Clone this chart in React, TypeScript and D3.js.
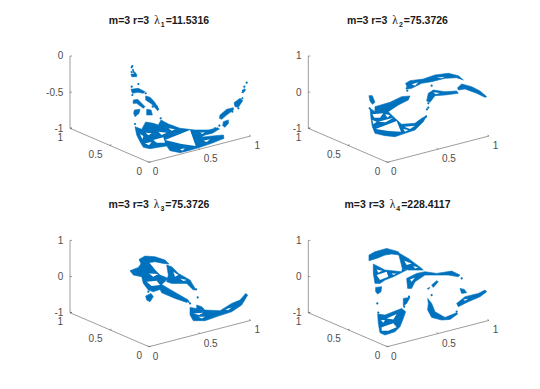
import React from "react";
import * as d3 from "d3";

type P = [number, number];

// view-plane readings of each point cloud (horizontal, vertical in plot units).
// blobs: outlines of dense point regions; gaps: holes inside them; dots: isolated points.
const blobs1: P[][] = [
  [[195,107],[215,99],[227,121],[250,117],[265,112],[273,127],[295,115],[330,102],[375,97],[415,97],[443,104],[448,100],[427,87],[405,82],[393,75],[427,79],[460,82],[462,72],[425,57],[390,45],[355,35],[330,29],[300,35],[290,49],[265,45],[240,41],[220,45],[210,62],[200,82]],
  [[183,219],[205,222],[225,212],[220,207],[203,210],[187,207]],
  [[190,187],[203,189],[225,167],[220,162],[200,177],[189,177]],
  [[227,199],[240,195],[253,182],[267,159],[263,155],[245,175],[227,187]],
  [[193,157],[210,159],[207,147],[195,137],[191,147]],
  [[230,159],[243,157],[247,142],[230,142]],
  [[183,265],[200,265],[200,257],[185,257]],
  [[515,209],[523,221],[527,217],[520,209]],
  [[492,179],[510,192],[518,185],[505,165],[495,167]],
  [[450,142],[470,159],[490,164],[490,157],[470,142],[455,129],[448,132]],
  [[460,122],[475,127],[475,117],[465,105],[458,110]],
];
const gaps1: P[][] = [
  [[285,67],[360,97],[377,49],[335,55]],
  [[295,102],[315,99],[305,95]],
  [[227,89],[245,87],[235,81]],
  [[210,85],[220,79],[217,69]],
  [[250,67],[280,75],[285,59],[260,59]],
  [[225,57],[245,61],[237,51]],
  [[265,92],[290,89],[275,82]],
  [[330,39],[345,42],[337,35]],
  [[390,89],[405,90],[397,85]],
  [[400,65],[420,69],[410,61]],
];
const dots1: P[] = [[185,285],[189,277],[185,271],[195,267],[187,289],[191,271],[185,227],[205,235],[227,207],[187,202],[195,115],[272,132],[248,167],[530,239],[523,227],[519,215],[448,110],[435,102],[487,152],[517,192],[505,162],[260,167]];

const blobs2: P[][] = [
  [[292,237],[305,245],[345,250],[380,262],[420,267],[450,260],[465,247],[445,254],[410,252],[370,242],[340,237],[310,222],[298,220]],
  [[448,224],[460,235],[490,227],[515,214],[535,197],[530,195],[505,207],[470,220],[450,217]],
  [[360,207],[375,217],[410,212],[445,214],[450,207],[410,202],[380,200],[365,180],[355,184]],
  [[182,200],[192,200],[200,180],[192,174],[185,184]],
  [[200,167],[245,180],[280,197],[305,199],[300,187],[270,172],[240,152],[215,144],[200,147]],
  [[185,162],[200,152],[240,152],[255,137],[280,114],[320,117],[340,132],[355,140],[345,122],[320,97],[290,87],[260,77],[230,80],[200,87],[192,107],[188,132]],
];
const gaps2: P[][] = [
  [[310,234],[330,240],[320,230]],
  [[385,254],[410,257],[400,252]],
  [[375,210],[395,208],[382,204]],
  [[192,144],[225,147],[215,134],[198,134]],
  [[230,144],[245,142],[238,134]],
  [[192,127],[205,122],[195,114]],
  [[202,100],[265,124],[278,92],[240,94]],
  [[210,122],[255,134],[232,120]],
  [[288,107],[320,110],[305,100]],
  [[285,100],[300,97],[290,92]],
];
const dots2: P[] = [[297,215],[370,230],[360,177],[356,159],[360,164],[353,137],[295,222],[184,162]];

const blobs3: P[][] = [
  [[207,262],[225,272],[255,270],[285,260],[297,248],[280,250],[255,255],[235,252],[215,245]],
  [[180,228],[205,238],[215,252],[235,255],[255,230],[270,215],[295,205],[275,187],[300,172],[355,140],[350,133],[315,145],[275,162],[270,172],[250,165],[235,170],[220,190],[215,210],[190,215]],
  [[290,245],[305,240],[325,220],[360,200],[377,172],[370,170],[350,190],[305,190],[290,195],[295,215]],
  [[227,152],[243,160],[250,150],[240,135],[230,140]],
  [[380,125],[395,120],[403,112],[380,112]],
  [[360,118],[405,110],[450,108],[485,130],[510,140],[527,160],[533,155],[515,125],[485,105],[445,92],[405,78],[370,78],[360,95]],
];
const gaps3: P[][] = [
  [[237,220],[265,218],[250,210]],
  [[230,195],[260,198],[270,185],[245,182]],
  [[310,225],[325,215],[315,210]],
  [[330,205],[350,200],[340,197]],
  [[370,100],[400,102],[387,95]],
  [[385,90],[405,90],[395,85]],
  [[465,112],[485,118],[475,110]],
];
const dots3: P[] = [[235,165],[383,148],[378,172],[360,130],[355,135]];

const blobs4: P[][] = [
  [[182,275],[200,285],[235,295],[270,285],[275,275],[250,278],[230,275],[205,265],[182,258]],
  [[270,282],[300,265],[340,235],[345,230],[300,230],[282,235]],
  [[195,248],[230,230],[280,225],[282,235],[295,230],[255,210],[230,200],[215,190],[200,190],[195,220]],
  [[202,178],[220,180],[218,165],[208,158],[202,165]],
  [[295,205],[325,220],[350,225],[385,220],[430,227],[455,215],[450,210],[420,215],[380,215],[350,215],[320,195],[310,175],[298,175]],
  [[370,185],[385,198],[390,195],[375,178]],
  [[357,175],[365,178],[360,172]],
  [[285,145],[305,148],[295,130],[285,122]],
  [[208,98],[230,95],[280,115],[292,105],[285,85],[275,60],[260,45],[230,35],[215,42],[210,70]],
  [[358,145],[370,130],[380,105],[410,88],[445,102],[448,98],[425,82],[400,80],[370,88],[358,110],[360,130]],
  [[455,175],[468,172],[475,162],[460,160]],
  [[445,130],[470,150],[510,160],[530,170],[535,165],[515,150],[480,135],[450,120]],
];
const gaps4: P[][] = [
  [[288,258],[310,250],[295,245]],
  [[315,242],[330,238],[320,235]],
  [[205,232],[222,228],[210,222]],
  [[205,215],[235,225],[240,210],[215,200]],
  [[250,220],[265,220],[255,215]],
  [[305,202],[320,208],[310,195]],
  [[235,85],[265,98],[255,82]],
  [[218,80],[230,80],[225,72]],
  [[220,58],[255,70],[265,58],[240,48],[220,48]],
  [[465,142],[480,144],[470,138]],
];
const dots4: P[] = [[207,130],[210,102],[370,155],[460,205],[445,105],[302,150],[205,195],[288,120]];

const lambdaIndex = ["1", "2", "3", "4"];
const lambdaValues = ["11.5316", "75.3726", "75.3726", "228.4117"];
const xyTicks = [0, 0.5, 1];
const zTicks1 = [-1, -0.5, 0];
const zTicksOther = [-1, 0, 1];

const BLUE = "#0072BD";
const AXIS = "#5a5a5a";
const TEXT = "#4d4d4d";

const panels = [
  { b: blobs1, g: gaps1, d: dots1, z: zTicks1, left: 70, bottom: 162.3, cx: 159, ty: 23.5 },
  { b: blobs2, g: gaps2, d: dots2, z: zTicksOther, left: 308.3, bottom: 162.3, cx: 397.5, ty: 23.5 },
  { b: blobs3, g: gaps3, d: dots3, z: zTicksOther, left: 70, bottom: 346.7, cx: 159, ty: 208 },
  { b: blobs4, g: gaps4, d: dots4, z: zTicksOther, left: 308.3, bottom: 346.7, cx: 397.5, ty: 208 },
];

const hScale = d3.scaleLinear().domain([0, 542]).range([0, 180.7]);
const vScale = d3.scaleLinear().domain([0, 319]).range([0, -106.3]);
const outline = d3.line<P>().x((p) => hScale(p[0])).y((p) => vScale(p[1])).curve(d3.curveLinearClosed);

// floor projection: x runs from the front corner to the right, y to the left
const xProj = (x: number): P => [79 + x * 101.7, 0 - x * 26.3];
const yProj = (y: number): P => [79 - y * 79, 0 - y * 34];

function Panel({ i }: { i: number }) {
  const p = panels[i];
  const zScale = d3.scaleLinear().domain([p.z[0], p.z[2]]).range([-34, -106.3]);
  const corner = yProj(1);
  const right = xProj(1);
  const front = xProj(0);
  return (
    <g>
      <text x={p.cx} y={p.ty} textAnchor="middle" fontFamily="Liberation Sans, Arial, sans-serif" fontWeight="bold" fontSize={10.5} fill="#1a1a1a">
        {"m=3 r=3"}
        <tspan dx={5} fontWeight="normal" fontFamily="Liberation Serif, serif" fontSize={11.5}>λ</tspan>
        <tspan dx={1} dy={3} fontSize={7}>{lambdaIndex[i]}</tspan>
        <tspan dx={1} dy={-3}>{"=" + lambdaValues[i]}</tspan>
      </text>
      <g transform={`translate(${p.left},${p.bottom})`}>
        <g stroke={AXIS} strokeWidth={0.6} fill="none">
          <line x1={0} y1={zScale(p.z[0])} x2={0} y2={zScale(p.z[2])} />
          <line x1={corner[0]} y1={corner[1]} x2={front[0]} y2={front[1]} />
          <line x1={front[0]} y1={front[1]} x2={right[0]} y2={right[1]} />
          {p.z.map((t) => <line key={t} x1={0} x2={2} y1={zScale(t)} y2={zScale(t)} />)}
          {xyTicks.map((t) => { const q = xProj(t); return <line key={"x" + t} x1={q[0]} y1={q[1]} x2={q[0] - 1.5} y2={q[1] - 1} />; })}
          {xyTicks.map((t) => { const q = yProj(t); return <line key={"y" + t} x1={q[0]} y1={q[1]} x2={q[0] + 2} y2={q[1] - 0.5} />; })}
        </g>
        <g fontFamily="Liberation Sans, Arial, sans-serif" fontSize={10} fill={TEXT}>
          {p.z.map((t) => <text key={t} x={-6.7} y={zScale(t) + 3.4} textAnchor="end">{String(t)}</text>)}
          {xyTicks.map((t) => { const q = xProj(t); return <text key={"x" + t} x={q[0] + 3.8} y={q[1] + 13} textAnchor="start">{String(t)}</text>; })}
          {xyTicks.map((t) => { const q = yProj(t); return <text key={"y" + t} x={q[0] - 7} y={q[1] + 12.6} textAnchor="end">{String(t)}</text>; })}
        </g>
        <g filter="url(#soft)">
          <g fill={BLUE} stroke={BLUE} strokeWidth={0.6} strokeLinejoin="round">
            {p.b.map((s, k) => <path key={k} d={outline(s) || ""} />)}
          </g>
          <g fill="#fff">
            {p.g.map((s, k) => <path key={k} d={outline(s) || ""} />)}
          </g>
          <g fill={BLUE}>
            {p.d.map((d, k) => <circle key={k} cx={hScale(d[0])} cy={vScale(d[1])} r={1.1} />)}
          </g>
        </g>
      </g>
    </g>
  );
}

export default function App() {
  return (
    <svg width={540} height={389} style={{ position: "absolute", left: 0, top: 0, background: "#fff" }}>
      <defs>
        <filter id="soft" x="-5%" y="-5%" width="110%" height="110%">
          <feGaussianBlur stdDeviation={0.3} />
        </filter>
      </defs>
      {panels.map((_, i) => <Panel key={i} i={i} />)}
    </svg>
  );
}
